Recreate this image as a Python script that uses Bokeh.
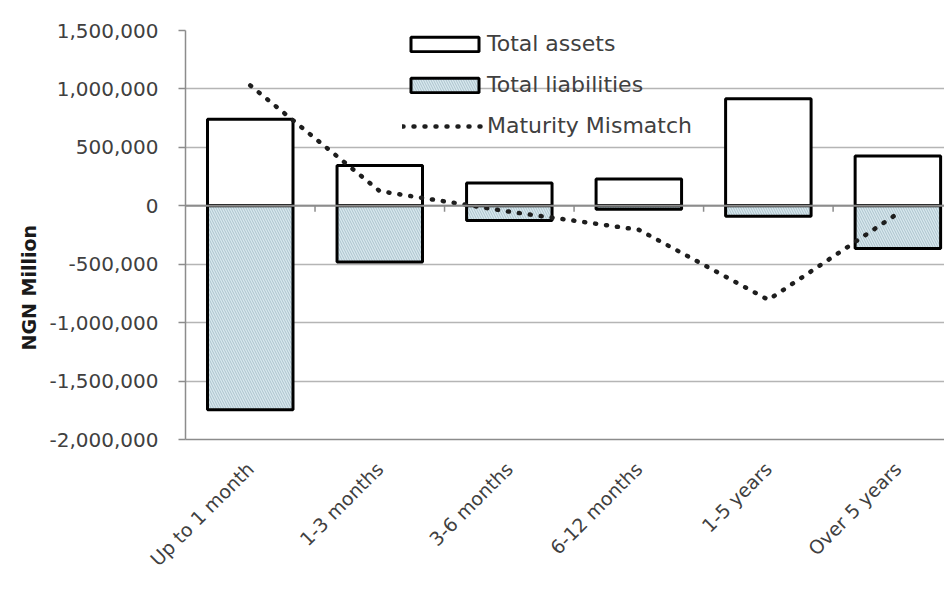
import numpy as np
from bokeh.plotting import figure
from bokeh.models import (Range1d, FixedTicker, NumeralTickFormatter, Legend, LegendItem,
                          Span, Title, ColumnDataSource)
from bokeh.embed import file_html
from bokeh.resources import INLINE

categories = ["Up to 1 month", "1-3 months", "3-6 months", "6-12 months", "1-5 years", "Over 5 years"]
total_assets = [740000, 345000, 195000, 230000, 915000, 425000]
total_liabilities = [-1745000, -480000, -125000, -30000, -90000, -365000]
maturity_mismatch = [1030000, 125000, -50000, -205000, -805000, -65000]
y_ticks = [-2000000, -1500000, -1000000, -500000, 0, 500000, 1000000, 1500000]

xs = list(range(len(categories)))
src = ColumnDataSource(dict(x=xs, assets=total_assets, liab=total_liabilities,
                            mm=maturity_mismatch, zero=[0] * len(xs)))

FONT = "DejaVu Sans"
TXT = "#404040"
W, H = 944, 582

p = figure(width=W, height=H, output_backend="svg", toolbar_location=None,
           x_range=Range1d(-0.5, len(categories) - 0.64),
           y_range=Range1d(y_ticks[0], y_ticks[-1]),
           min_border_left=185, min_border_top=30, min_border_right=0, min_border_bottom=H - 439)
p.outline_line_color = None
p.background_fill_color = "white"

# grid
p.xgrid.grid_line_color = None
p.ygrid.grid_line_color = "#b5b5b5"
p.ygrid.grid_line_width = 1.6

# y axis
p.yaxis.ticker = FixedTicker(ticks=y_ticks)
p.yaxis.formatter = NumeralTickFormatter(format="0,0")
p.yaxis.axis_line_color = "#8c8c8c"
p.yaxis.axis_line_width = 1.5
p.yaxis.major_tick_line_color = "#8c8c8c"
p.yaxis.major_tick_line_width = 1.5
p.yaxis.major_tick_out = 7
p.yaxis.major_tick_in = 0
p.yaxis.minor_tick_line_color = None
p.yaxis.major_label_standoff = 20
p.yaxis.major_label_text_font = FONT
p.yaxis.major_label_text_font_size = "20px"
p.yaxis.major_label_text_color = TXT

# x axis
p.xaxis.ticker = FixedTicker(ticks=xs)
p.xaxis.major_label_overrides = {i: c for i, c in enumerate(categories)}
p.xaxis.major_label_orientation = np.pi / 4
p.xaxis.axis_line_color = "#8c8c8c"
p.xaxis.axis_line_width = 1.5
p.xaxis.major_tick_line_color = None
p.xaxis.minor_tick_line_color = None
p.xaxis.major_label_standoff = 20
p.xaxis.major_label_text_font = FONT
p.xaxis.major_label_text_font_size = "19px"
p.xaxis.major_label_text_color = TXT

bw = 0.66
r_assets = p.vbar(x="x", top="assets", bottom="zero", width=bw, source=src,
                  fill_color="white", line_color="black", line_width=3)
r_liab = p.vbar(x="x", top="zero", bottom="liab", width=bw, source=src,
                fill_color="#d8e8ee", line_color="black", line_width=3,
                hatch_pattern="\\", hatch_color="#a6bdc8", hatch_weight=0.9, hatch_scale=5)
r_mm = p.line(x="x", y="mm", source=src, line_color="#1e1e1e", line_width=4.5,
              line_dash="1 10", line_cap="round")

# zero axis line drawn over bars, with tick marks at category boundaries
bounds = [i + 0.5 for i in xs]
p.segment(x0=bounds, x1=bounds, y0=[0] * len(bounds), y1=[-50000] * len(bounds),
          line_color="#8c8c8c", line_width=1.5)
p.add_layout(Span(location=0, dimension="width", line_color="#8c8c8c", line_width=2))

legend = Legend(items=[LegendItem(label="Total assets", renderers=[r_assets]),
                       LegendItem(label="Total liabilities", renderers=[r_liab]),
                       LegendItem(label="Maturity Mismatch", renderers=[r_mm])],
                location=(217, 301), orientation="vertical")
legend.background_fill_alpha = 0
legend.border_line_color = None
legend.glyph_width = 85
legend.glyph_height = 18
legend.label_height = 22
legend.spacing = 16
legend.padding = 4
legend.margin = 0
legend.label_standoff = 0
legend.label_text_font = FONT
legend.label_text_font_size = "22px"
legend.label_text_color = TXT
p.add_layout(legend, "center")

p.add_layout(Title(text="NGN Million", align="left", offset=89,
                   text_font=FONT, text_font_size="19px", text_font_style="bold",
                   text_color="#1a1a1a", standoff=14), "left")

open("out.html", "w").write(file_html(p, INLINE))
